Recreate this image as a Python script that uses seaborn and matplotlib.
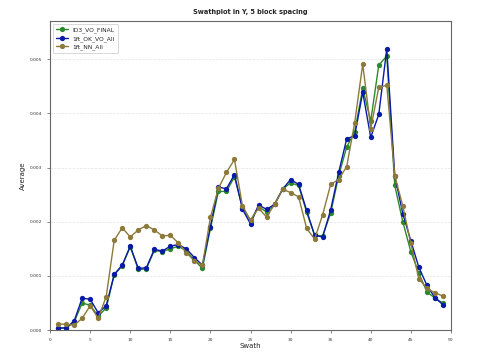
import numpy as np
import pandas as pd
import matplotlib
matplotlib.use('Agg')
import matplotlib.pyplot as plt
import seaborn as sns

# Swath positions and averages
swath = list(range(1, 50))

id3_vo_final = [0.00004, 0.00004, 0.00015, 0.00050, 0.00046, 0.00026, 0.00041, 0.00102, 0.00119, 0.00154,
                0.00112, 0.00113, 0.00147, 0.00145, 0.00150, 0.00155, 0.00146, 0.00129, 0.00114, 0.00188,
                0.00256, 0.00256, 0.00283, 0.00226, 0.00202, 0.00228, 0.00218, 0.00232, 0.00260, 0.00272,
                0.00267, 0.00218, 0.00175, 0.00174, 0.00216, 0.00285, 0.00338, 0.00366, 0.00446, 0.00386,
                0.00489, 0.00506, 0.00267, 0.00200, 0.00145, 0.00105, 0.00071, 0.00059, 0.00050]
ok_vo_all = [0.00004, 0.00004, 0.00017, 0.00059, 0.00057, 0.00032, 0.00045, 0.00103, 0.00120, 0.00155,
             0.00114, 0.00115, 0.00149, 0.00146, 0.00155, 0.00158, 0.00150, 0.00134, 0.00120, 0.00191,
             0.00264, 0.00261, 0.00287, 0.00223, 0.00196, 0.00231, 0.00223, 0.00232, 0.00260, 0.00278,
             0.00269, 0.00221, 0.00175, 0.00172, 0.00222, 0.00291, 0.00353, 0.00359, 0.00439, 0.00356,
             0.00398, 0.00519, 0.00285, 0.00215, 0.00165, 0.00116, 0.00083, 0.00060, 0.00047]
nn_all = [0.00011, 0.00011, 0.00009, 0.00022, 0.00045, 0.00022, 0.00062, 0.00166, 0.00189, 0.00172,
          0.00185, 0.00193, 0.00185, 0.00174, 0.00175, 0.00161, 0.00143, 0.00128, 0.00120, 0.00208,
          0.00262, 0.00291, 0.00315, 0.00229, 0.00203, 0.00225, 0.00209, 0.00232, 0.00260, 0.00254,
          0.00246, 0.00188, 0.00168, 0.00213, 0.00269, 0.00278, 0.00302, 0.00383, 0.00491, 0.00372,
          0.00448, 0.00452, 0.00285, 0.00229, 0.00160, 0.00095, 0.00077, 0.00069, 0.00063]

series_names = ['ID3_VO_FINAL', '1ft_OK_VO_All', '1ft_NN_All']
series_values = [id3_vo_final, ok_vo_all, nn_all]
colors = ['#2a8a2a', '#0a1aa8', '#8c7a3a']

sns.set_theme(style='white')
plt.rcParams['font.family'] = ['DejaVu Sans']

fig = plt.figure(figsize=(5.01, 3.55), dpi=100)
ax = fig.add_axes([0.1, 0.07, 0.8, 0.87])

for name, vals, col in zip(series_names, series_values, colors):
    df = pd.DataFrame({'Swath': swath, 'Average': vals})
    sns.lineplot(data=df, x='Swath', y='Average', ax=ax, color=col, marker='o',
                 markersize=3.8, markeredgewidth=0, linewidth=1.0, label=name)

ax.set_xlim(0, 50)
ax.set_ylim(0, 0.0057)
ax.set_xticks(np.arange(0, 51, 5))
ax.set_yticks([0, 0.001, 0.002, 0.003, 0.004, 0.005])
ax.set_yticklabels(['0.000', '0.001', '0.002', '0.003', '0.004', '0.005'])
ax.tick_params(axis='both', labelsize=3.2, length=2, width=0.5, colors='#555555',
               labelcolor='#333333', direction='out', bottom=True, left=True)

ax.yaxis.grid(True, color='#e4e4e4', linewidth=0.5, linestyle='--')
ax.xaxis.grid(False)
for sp in ax.spines.values():
    sp.set_color('#666666')
    sp.set_linewidth(0.8)

ax.set_title('Swathplot in Y, 5 block spacing', fontsize=4.8, fontweight='bold', pad=5)
ax.set_xlabel('Swath', fontsize=5, labelpad=1)
ax.set_ylabel('Average', fontsize=5, labelpad=3)

leg = ax.legend(loc='upper left', fontsize=4.3, frameon=True, borderpad=0.5,
                handlelength=2.0, labelspacing=0.45, bbox_to_anchor=(0.0, 1.0))
leg.get_frame().set_edgecolor('#bbbbbb')
leg.get_frame().set_linewidth(0.5)

fig.savefig('out.png', dpi=100)
